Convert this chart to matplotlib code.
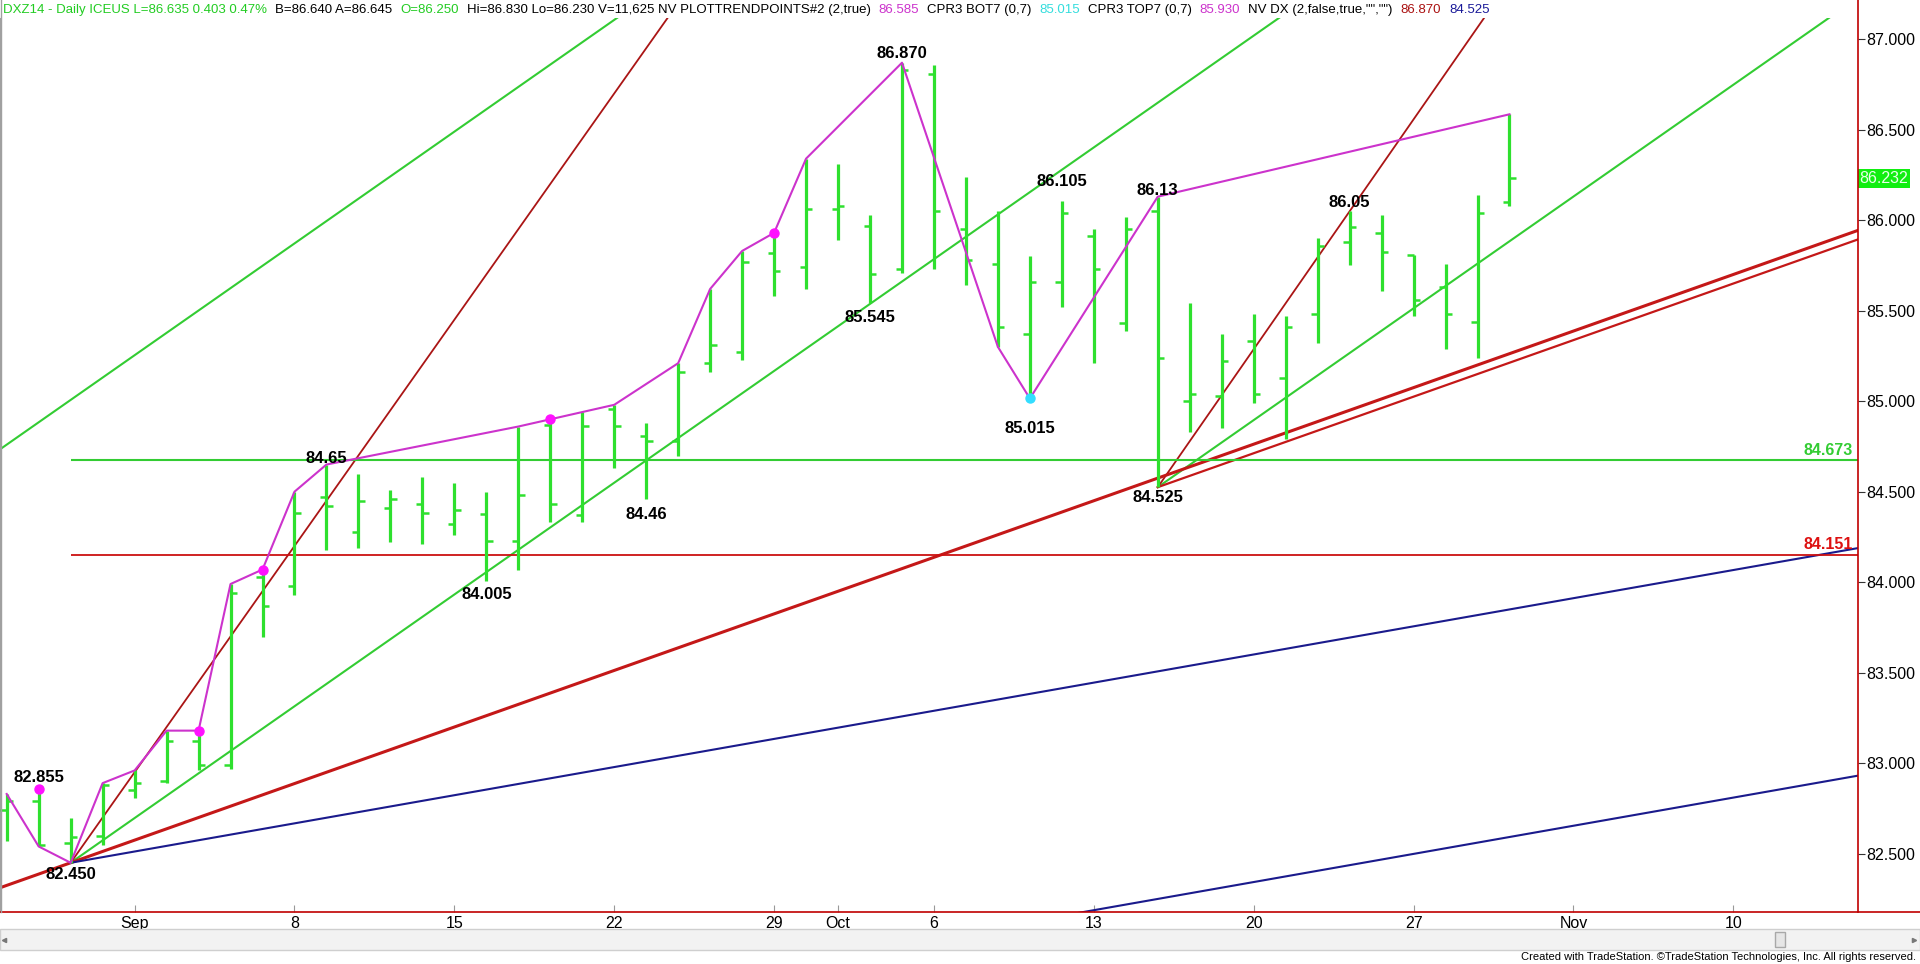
import matplotlib
matplotlib.use('Agg')
import matplotlib.pyplot as plt
from matplotlib.lines import Line2D
from matplotlib.patches import Rectangle

plt.rcParams['font.family'] = ['Liberation Sans', 'DejaVu Sans']

# trading-day index, 0 = Mon Sep 1 2014
days = list(range(-4, 44))
opens = [82.74, 82.79, 82.56, 82.60, 82.85, 82.90, 83.12, 82.99, 84.03, 83.98,
         84.47, 84.28, 84.41, 84.43, 84.32, 84.375, 84.23, 84.87, 84.37, 84.955,
         84.81, 84.78, 85.21, 85.27, 85.82, 85.74, 86.06, 85.97, 85.73, 86.81,
         85.95, 85.76, 85.37, 85.66, 85.91, 85.43, 86.05, 85.00, 85.03, 85.335,
         85.13, 85.48, 85.88, 85.93, 85.81, 85.63, 85.44, 86.10]
highs = [82.83, 82.855, 82.70, 82.89, 82.96, 83.18, 83.18, 83.99, 84.07, 84.50,
         84.65, 84.60, 84.51, 84.58, 84.55, 84.50, 84.86, 84.90, 84.94, 84.98,
         84.88, 85.21, 85.62, 85.83, 85.93, 86.34, 86.31, 86.03, 86.87, 86.86,
         86.24, 86.05, 85.80, 86.105, 85.95, 86.02, 86.13, 85.54, 85.37, 85.48,
         85.47, 85.90, 86.05, 86.03, 85.81, 85.76, 86.14, 86.585]
lows = [82.57, 82.54, 82.45, 82.55, 82.81, 82.89, 82.96, 82.97, 83.70, 83.93,
        84.18, 84.19, 84.22, 84.21, 84.26, 84.005, 84.07, 84.33, 84.33, 84.63,
        84.46, 84.695, 85.16, 85.23, 85.58, 85.62, 85.89, 85.545, 85.71, 85.73,
        85.64, 85.30, 85.015, 85.52, 85.21, 85.39, 84.525, 84.83, 84.85, 84.99,
        84.79, 85.32, 85.755, 85.61, 85.47, 85.29, 85.24, 86.08]
closes = [82.79, 82.55, 82.59, 82.88, 82.89, 83.12, 82.99, 83.94, 83.87, 84.38,
          84.42, 84.45, 84.46, 84.38, 84.40, 84.23, 84.48, 84.43, 84.865, 84.865,
          84.78, 85.16, 85.31, 85.77, 85.72, 86.06, 86.08, 85.70, 86.83, 86.05,
          85.78, 85.41, 85.66, 86.04, 85.73, 85.95, 85.24, 85.04, 85.22, 85.04,
          85.41, 85.86, 85.96, 85.825, 85.56, 85.48, 86.04, 86.232]

# swing line (PLOTTRENDPOINTS): day and which side of the bar
swing_days = [-4, -3, -2, -1, 0, 1, 2, 3, 4, 5, 6, 12, 13, 15, 17, 18, 19, 20, 21, 24, 27, 28, 32, 43]
swing_side = 'HLLHHHHHHHHHHHHHHHHHLLHH'
dot_days_high = [-3, 2, 4, 13, 20]
dot_days_low = [28]

# price labels: day, side, text
label_days = [-3, -2, 6, 11, 16, 24, 23, 28, 29, 32, 32, 38]
label_side = ['H', 'L', 'H', 'L', 'L', 'H', 'L', 'L', 'H', 'H', 'L', 'H']
label_text = ['82.855', '82.450', '84.65', '84.005', '84.46', '86.870', '85.545',
              '85.015', '86.105', '86.13', '84.525', '86.05']
label_gap = [7, 4, 2, 6, 8, 5, 7, 23, 15, 2, 3, 4]

# trend lines: anchor day, anchor price, slope per day, start day
green_lines = [(-4, 84.76, 0.1235, -5), (-2, 82.45, 0.1235, -2), (32, 84.525, 0.1235, 32)]
steep_red_lines = [(-2, 82.45, 0.25, -2), (32, 84.525, 0.254, 32)]
red_lines = [(-2, 82.45, 0.0625, -5, 2.2), (32, 84.525, 0.0625, 32, 1.6)]
blue_lines = [(-2, 82.45, 0.0311, -2), (50, 82.81, 0.0311, 20)]
level_green = 84.673
level_red = 84.151

tick_days = [0, 5, 10, 15, 20, 22, 25, 30, 35, 40, 45, 50]
tick_labels = ['Sep', '8', '15', '22', '29', 'Oct', '6', '13', '20', '27', 'Nov', '10']
y_ticks = [82.5, 83.0, 83.5, 84.0, 84.5, 85.0, 85.5, 86.0, 86.5, 87.0]

header = [
    ('DXZ14 - Daily ICEUS L=86.635 0.403 0.47%', '#22cc22'),
    ('B=86.640 A=86.645', 'black'),
    ('O=86.250', '#22cc22'),
    ('Hi=86.830 Lo=86.230 V=11,625 NV PLOTTRENDPOINTS#2 (2,true)', 'black'),
    ('86.585', '#cc33cc'),
    ('CPR3 BOT7 (0,7)', 'black'),
    ('85.015', '#33dddd'),
    ('CPR3 TOP7 (0,7)', 'black'),
    ('85.930', '#cc33cc'),
    ('NV DX (2,false,true,"","")', 'black'),
    ('86.870', '#aa1111'),
    ('84.525', '#1a1a99'),
]

BAR_GREEN = '#2ee02e'
LINE_GREEN = '#33cc33'

W, H = 1920, 964
fig = plt.figure(figsize=(W / 100, H / 100), dpi=100)
ax_left, ax_right, ax_bot, ax_top = 0, 1858, 912, 18
ax = fig.add_axes([ax_left / W, (H - ax_bot) / H, (ax_right - ax_left) / W, (ax_bot - ax_top) / H])
x_min, x_max = -4.21, 53.9
ax.set_xlim(x_min, x_max)
ax.set_ylim(82.178, 87.117)

# trend lines
for d0, p0, s, start in green_lines:
    ax.plot([start, x_max], [p0 + s * (start - d0), p0 + s * (x_max - d0)], color=LINE_GREEN, lw=1.5, zorder=2)
for d0, p0, s, start in steep_red_lines:
    ax.plot([start, x_max], [p0 + s * (start - d0), p0 + s * (x_max - d0)], color='#aa1515', lw=1.3, zorder=2)
for d0, p0, s, start, lw in red_lines:
    ax.plot([start, x_max], [p0 + s * (start - d0), p0 + s * (x_max - d0)], color='#c41818', lw=lw, zorder=2)
for d0, p0, s, start in blue_lines:
    ax.plot([start, x_max], [p0 + s * (start - d0), p0 + s * (x_max - d0)], color='#1a1a8c', lw=1.5, zorder=2)

ax.hlines(level_green, -2, x_max, color=LINE_GREEN, lw=1.5, zorder=2)
ax.hlines(level_red, -2, x_max, color='#cc1111', lw=1.3, zorder=2)
ax.annotate(f'{level_green:.3f}', (53.75, level_green), xytext=(0, 2), textcoords='offset pixels',
            color=LINE_GREEN, fontsize=11.5, fontweight='bold', ha='right', va='bottom')
ax.annotate(f'{level_red:.3f}', (53.75, level_red), xytext=(0, 3), textcoords='offset pixels',
            color='#dd1111', fontsize=11.5, fontweight='bold', ha='right', va='bottom')

# OHLC bars
tick = 0.2
ax.vlines(days, lows, highs, color=BAR_GREEN, lw=2.3, zorder=3)
ax.hlines(opens, [d - tick for d in days], days, color=BAR_GREEN, lw=1.8, zorder=3)
ax.hlines(closes, days, [d + tick for d in days], color=BAR_GREEN, lw=1.8, zorder=3)

# swing line and dots
price_at = {d: (h, l) for d, h, l in zip(days, highs, lows)}
swing_y = [price_at[d][0] if s == 'H' else price_at[d][1] for d, s in zip(swing_days, swing_side)]
ax.plot(swing_days, swing_y, color='#cc33cc', lw=1.5, zorder=4)
ax.plot(dot_days_high, [price_at[d][0] for d in dot_days_high], 'o', color='#ff11ff', ms=6.5, zorder=5)
ax.plot(dot_days_low, [price_at[d][1] for d in dot_days_low], 'o', color='#33ddff', ms=6.5, zorder=5)

for d, side, txt, gap in zip(label_days, label_side, label_text, label_gap):
    if side == 'H':
        ax.annotate(txt, (d, price_at[d][0]), xytext=(0, gap), textcoords='offset pixels',
                    ha='center', va='baseline', fontsize=12, fontweight='bold', zorder=6)
    else:
        ax.annotate(txt, (d, price_at[d][1]), xytext=(0, -gap), textcoords='offset pixels',
                    ha='center', va='top', fontsize=12, fontweight='bold', zorder=6)

# axes styling
for side in ['top', 'right', 'bottom']:
    ax.spines[side].set_visible(False)
ax.spines['left'].set_color('#a0a0a0')
ax.yaxis.tick_right()
ax.set_yticks(y_ticks)
ax.set_yticklabels([f'{v:.3f}' for v in y_ticks])
ax.tick_params(axis='y', direction='out', length=5, color='#333333', labelsize=11.5, pad=1)
ax.set_xticks(tick_days)
ax.set_xticklabels(tick_labels)
ax.tick_params(axis='x', direction='in', length=5, color='#999999', labelsize=11.5, pad=3)

ax.text(1.0008, closes[-1], f'{closes[-1]:.3f}', transform=ax.get_yaxis_transform(),
        fontsize=11.5, color='#e8ffe8', ha='left', va='center', clip_on=False,
        bbox=dict(boxstyle='square,pad=0.12', fc='#11ee11', ec='none'))

fig.add_artist(Line2D([ax_right / W] * 2, [(H - ax_bot) / H, 1], color='#c00000', lw=1.2))
fig.add_artist(Line2D([0, 1], [(H - ax_bot) / H] * 2, color='#c00000', lw=1.2))
fig.add_artist(Line2D([0.0003, 0.0003], [(H - ax_bot) / H, 1], color='#a0a0a0', lw=1))

# header: lay pieces out one after another, sized so the row ends near x=1498
renderer = fig.canvas.get_renderer()
header_gap = 8
probe = [fig.text(0, 0, txt, fontsize=10) for txt, _ in header]
probe_width = sum(t.get_window_extent(renderer).width for t in probe)
for t in probe:
    t.remove()
header_size = 10 * (1498 - 3 - header_gap * (len(header) - 1)) / probe_width
x = 3
for txt, col in header:
    t = fig.text(x / W, 1 - 10 / H, txt, color=col, fontsize=header_size, ha='left', va='center')
    x += t.get_window_extent(renderer).width + header_gap

# scroll bar
fig.add_artist(Rectangle((0, (H - 950) / H), 1, 21 / H, transform=fig.transFigure,
                         fc='#f2f2f2', ec='#cfcfcf', lw=1))
fig.add_artist(Rectangle((1775 / W, (H - 947) / H), 10 / W, 15 / H, transform=fig.transFigure,
                         fc='#e6e6e6', ec='#a8a8a8', lw=1))
fig.add_artist(Line2D([4 / W], [(H - 940) / H], marker='<', ms=3, color='#777777'))
fig.add_artist(Line2D([1914 / W], [(H - 940) / H], marker='>', ms=3, color='#777777'))

fig.text(1916 / W, 1 - 957 / H,
         'Created with TradeStation. \u00a9TradeStation Technologies, Inc. All rights reserved.',
         fontsize=8, ha='right', va='center')

fig.savefig('out.png', dpi=100)
